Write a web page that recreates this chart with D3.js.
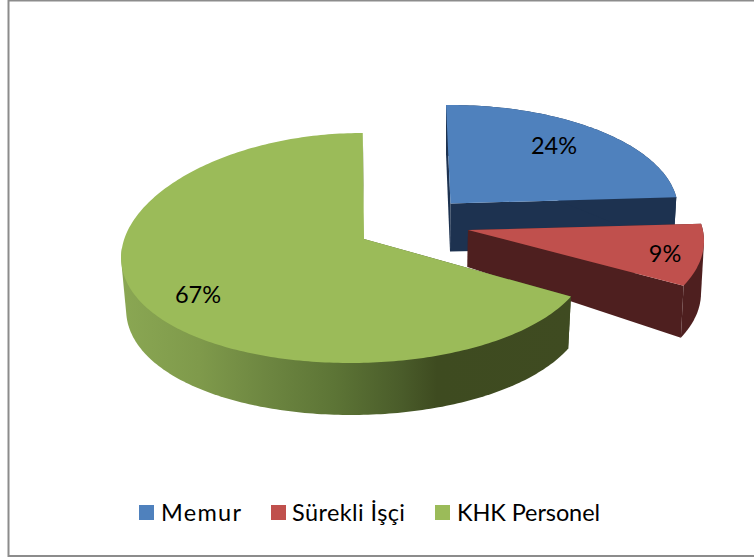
<!DOCTYPE html>
<html>
<head>
<meta charset="utf-8">
<style>html,body{margin:0;padding:0;background:#fff}svg{display:block}</style>
<script src="https://cdn.jsdelivr.net/npm/d3@7/dist/d3.min.js"></script>
</head>
<body>
<script>
const categories = ["Memur", "Sürekli İşçi", "KHK Personel"];
const values = [24, 9, 67];
const labels = ["24%", "9%", "67%"];

const colors = ["#4f81bd", "#c0504d", "#9bbb59"];
const wallColors = ["#1d3250", "#4e1f1f", "url(#greenWall)"];

// Apparent geometry of the exploded 3D slices (perspective view)
const views = [
  {cx:450, cy:210, rx:228, ry:105, s:0, p:0,    apex:[450.5,203.5], dApex:48, dOuter:50, shrink:3, dxB:0, off:[-1,-3.4]},
  {cx:468, cy:241, rx:236, ry:110, s:0, p:0,    apex:[468,230],     dApex:37, dOuter:52, shrink:3, dxB:0, off:[-5.4,-4.8]},
  {cx:356, cy:248, rx:234, ry:115, s:6, p:0.06, apex:[364,239],     dApex:50, dOuter:52, shrink:4, dxB:1, off:[-3.8,0.2]}
];
const labelPos = [[554,154],[665,262],[198,303]];
const legendSwatchX = [139,271,435];
const legendTextX = [161,292,457];
const legendTextW = [80,113,143];

const W = 754, H = 560;
const svg = d3.select("body").append("svg").attr("width",W).attr("height",H);

const grad = svg.append("defs").append("linearGradient").attr("id","greenWall")
  .attr("gradientUnits","userSpaceOnUse").attr("x1",122).attr("x2",572).attr("y1",0).attr("y2",0);
[[0,"#8aa753"],[0.17,"#7f9a4b"],[0.33,"#6c8540"],[0.47,"#5d7536"],[0.62,"#4a5c2a"],[0.7,"#3e4b20"],[1,"#3f4b21"]]
  .forEach(s => grad.append("stop").attr("offset",s[0]).attr("stop-color",s[1]));

// chart frame
svg.append("path").attr("d",`M${W},0.5H8.5V556H${W}`)
  .attr("fill","none").attr("stroke","#8c8c8c").attr("stroke-width",2);

const pie = d3.pie().sort(null).value(d=>d)(values);
const rad = Math.PI/180;
const line = d3.line();

function pt(v,a,dy,shrink,dx){
  const sa = Math.sin(a), ca = Math.cos(a);
  return [v.cx+(dx||0)+(v.rx-shrink)*sa*(1-v.p*ca)+v.s*ca, v.cy-v.ry*ca+dy];
}
function arcPts(v,a0,a1,dy,shrink,dx){
  const n = Math.max(2,Math.ceil(Math.abs(a1-a0)/(1*rad)));
  return d3.range(n+1).map(i=>pt(v,a0+(a1-a0)*i/n,dy,shrink,dx));
}

pie.forEach((p,i)=>{
  const v = views[i];
  const a0 = p.startAngle+v.off[0]*rad, a1 = p.endAngle+v.off[1]*rad;
  const g = svg.append("g");
  const ap = v.apex, apB = [ap[0]-0.5,ap[1]+v.dApex];
  const wc = wallColors[i];
  const startTop = pt(v,a0,0,0), startBot = pt(v,a0,v.dOuter,v.shrink,v.dxB);
  const endTop = pt(v,a1,0,0), endBot = pt(v,a1,v.dOuter,v.shrink,v.dxB);
  // cut faces
  g.append("path").attr("d",line([startTop,ap,apB,startBot])+"Z").attr("fill",wc);
  g.append("path").attr("d",line([ap,endTop,endBot,apB])+"Z").attr("fill",wc);
  // outer wall: hull of the visible arc, top and bottom rims
  const wEnd = Math.min(a1, 270*rad);
  const hull = d3.polygonHull(arcPts(v,a0,wEnd,0,0,0).concat(arcPts(v,a0,wEnd,v.dOuter,v.shrink,v.dxB)));
  g.append("path").attr("d",line(hull)+"Z").attr("fill",wc);
  // top face
  const top = [ap].concat(arcPts(v,a0,a1,0,0,0));
  g.append("path").attr("d",line(top)+"Z").attr("fill",colors[i]);
});

const font = "Lato, 'Open Sans', sans-serif";
labels.forEach((t,i)=>{
  svg.append("text").attr("x",labelPos[i][0]).attr("y",labelPos[i][1])
    .attr("text-anchor","middle").attr("font-family",font).attr("font-size",23.5)
    .attr("fill","#000").text(t);
});

categories.forEach((c,i)=>{
  svg.append("rect").attr("x",legendSwatchX[i]).attr("y",505).attr("width",15).attr("height",15).attr("fill",colors[i]);
  svg.append("text").attr("x",legendTextX[i]).attr("y",521)
    .attr("font-family",font).attr("font-size",23.5).attr("fill","#000")
    .attr("textLength",legendTextW[i]).attr("lengthAdjust","spacing").text(c);
});
</script>
</body>
</html>
